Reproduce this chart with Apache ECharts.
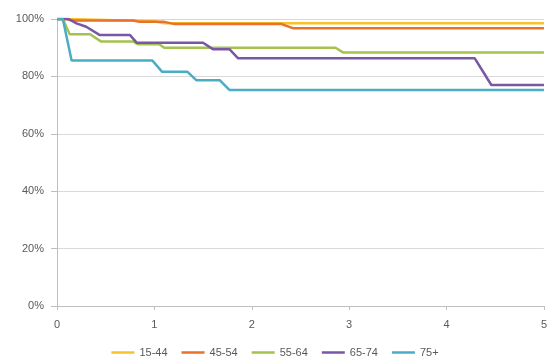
<!DOCTYPE html>
<html><head><meta charset="utf-8">
<script src="https://cdn.jsdelivr.net/npm/echarts@6/dist/echarts.min.js"></script>
<style>html,body{margin:0;padding:0;background:#fff}#c{width:550px;height:360px}</style>
</head><body><div id="c"></div>
<script>
const seriesNames = ['15-44', '45-54', '55-64', '65-74', '75+'];
const colors = ['#F8C22C', '#E8722A', '#A4C24E', '#7A57A5', '#4BACC6'];

const x1544 = [0, 0.1, 1.0, 1.1, 5];
const y1544 = [100, 100, 99.2, 98.5, 98.5];

const x4554 = [0, 0.1, 0.15, 0.78, 0.85, 1.1, 1.2, 2.3, 2.42, 5];
const y4554 = [100, 100, 99.5, 99.5, 99, 99, 98.3, 98.3, 96.8, 96.8];

const x5564 = [0, 0.06, 0.13, 0.34, 0.45, 0.78, 0.83, 1.05, 1.10, 2.86, 2.94, 5];
const y5564 = [100, 100, 94.7, 94.7, 92.2, 92.2, 91.2, 91.2, 90, 90, 88.3, 88.3];

const x6574 = [0, 0.12, 0.20, 0.30, 0.44, 0.75, 0.82, 1.50, 1.60, 1.77, 1.86, 4.29, 4.46, 5];
const y6574 = [100, 100, 98.5, 97.3, 94.4, 94.4, 91.7, 91.7, 89.5, 89.5, 86.3, 86.3, 77, 77];

const x75 = [0, 0.06, 0.15, 0.98, 1.08, 1.34, 1.43, 1.67, 1.77, 5];
const y75 = [100, 100, 85.5, 85.5, 81.6, 81.6, 78.7, 78.7, 75.3, 75.3];

const xs = [x1544, x4554, x5564, x6574, x75];
const ys = [y1544, y4554, y5564, y6574, y75];

const chart = echarts.init(document.getElementById('c'));
const font = 'Liberation Sans';
chart.setOption({
  animation: false,
  grid: {left: 57, right: 2, top: 19, bottom: 54},
  legend: {
    bottom: -3, left: 'center', icon: 'rect', itemWidth: 23, itemHeight: 2.5, itemGap: 14,
    textStyle: {color: '#595959', fontSize: 11, fontFamily: font},
    data: seriesNames
  },
  xAxis: {
    type: 'value', min: 0, max: 5, interval: 1,
    axisLine: {show: true, lineStyle: {color: '#BFBFBF', width: 1}},
    axisTick: {show: true, length: 4, lineStyle: {color: '#BFBFBF'}},
    splitLine: {show: false},
    axisLabel: {color: '#595959', fontSize: 11, fontFamily: font, margin: 13}
  },
  yAxis: {
    type: 'value', min: 0, max: 100, interval: 20,
    axisLine: {show: true, lineStyle: {color: '#BFBFBF', width: 1}},
    axisTick: {show: true, length: 6, lineStyle: {color: '#BFBFBF'}},
    splitLine: {show: true, lineStyle: {color: '#D9D9D9', width: 1}},
    axisLabel: {color: '#595959', fontSize: 11, fontFamily: font, margin: 13, formatter: '{value}%'}
  },
  series: seriesNames.map((n, i) => ({
    name: n, type: 'line', showSymbol: false, symbol: 'none',
    color: colors[i],
    lineStyle: {width: 2.5, color: colors[i]},
    data: xs[i].map((x, j) => [x, ys[i][j]])
  }))
});
</script></body></html>
